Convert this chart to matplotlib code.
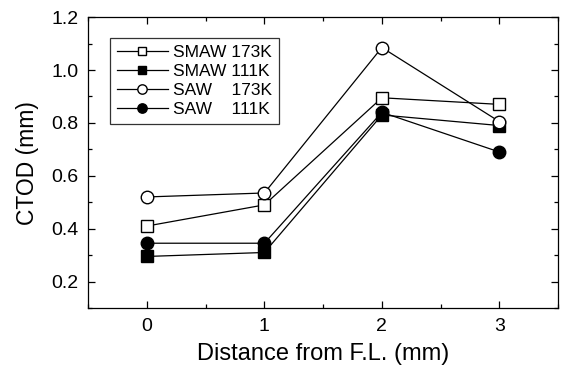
import matplotlib
matplotlib.use("Agg")
import matplotlib.pyplot as plt
from matplotlib.ticker import MultipleLocator

plt.rcParams['font.family'] = ['Liberation Sans', 'DejaVu Sans']

# distance from fusion line (mm)
distance = [0, 1, 2, 3]

# CTOD values (mm)
smaw_173 = [0.41, 0.49, 0.895, 0.87]
smaw_111 = [0.295, 0.31, 0.83, 0.79]
saw_173 = [0.52, 0.535, 1.085, 0.805]
saw_111 = [0.345, 0.345, 0.84, 0.69]

labels = ["SMAW 173K", "SMAW 111K", "SAW    173K", "SAW    111K"]

fig = plt.figure(figsize=(5.62, 3.72), dpi=100)
ax = fig.add_axes([0.157, 0.172, 0.836, 0.782])

ms = 8.5
ax.plot(distance, smaw_173, '-s', color='black', mfc='white', mec='black', ms=ms, lw=0.9, label=labels[0])
ax.plot(distance, smaw_111, '-s', color='black', mfc='black', mec='black', ms=ms, lw=0.9, label=labels[1])
ax.plot(distance, saw_173, '-o', color='black', mfc='white', mec='black', ms=ms + 0.5, lw=0.9, label=labels[2])
ax.plot(distance, saw_111, '-o', color='black', mfc='black', mec='black', ms=ms + 0.5, lw=0.9, label=labels[3])

ax.set_xlim(-0.5, 3.5)
ax.set_ylim(0.1, 1.2)
ax.xaxis.set_major_locator(MultipleLocator(1))
ax.xaxis.set_minor_locator(MultipleLocator(0.5))
ax.yaxis.set_major_locator(MultipleLocator(0.2))
ax.yaxis.set_minor_locator(MultipleLocator(0.1))
ax.yaxis.set_major_formatter(plt.FormatStrFormatter('%.1f'))

ax.tick_params(which='both', direction='in', top=True, right=True, labelsize=14, width=0.9)
ax.tick_params(which='major', length=5, pad=7)
ax.tick_params(which='minor', length=3)
for sp in ax.spines.values():
    sp.set_linewidth(0.9)

ax.set_xlabel("Distance from F.L. (mm)", fontsize=17, labelpad=6)
ax.set_ylabel("CTOD (mm)", fontsize=16.5, labelpad=9)

leg = ax.legend(loc='upper left', bbox_to_anchor=(0.047, 0.928), borderaxespad=0,
                fontsize=12.5, frameon=True, fancybox=False, edgecolor='black',
                handlelength=2.9, handletextpad=0.3, labelspacing=0.22, borderpad=0.4,
                markerscale=0.75)
leg.get_frame().set_linewidth(0.9)

fig.savefig("out.png", dpi=100)
